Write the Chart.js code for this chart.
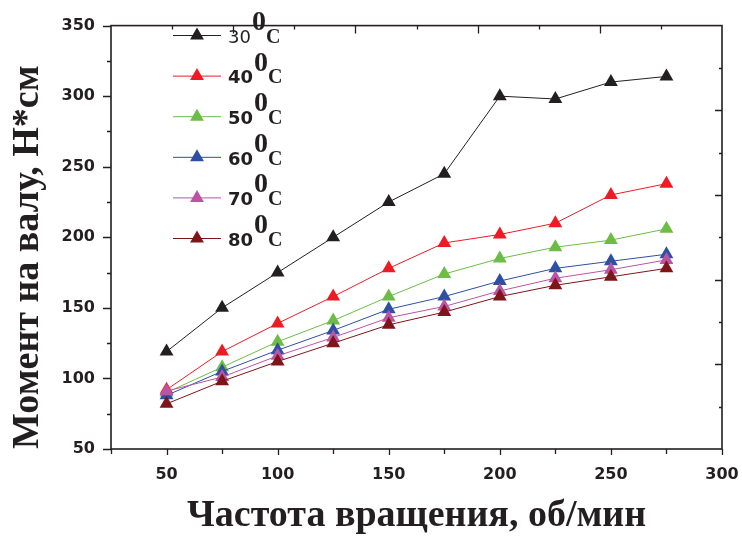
<!DOCTYPE html>
<html>
<head>
<meta charset="utf-8">
<script src="https://cdn.jsdelivr.net/npm/chart.js@4.4.1/dist/chart.umd.min.js"></script>
<style>
  html, body { margin: 0; background: #fff; }
</style>
</head>
<body>
<canvas id="c" width="742" height="538"></canvas>
<script>
// частота вращения, об/мин
const speeds = [50, 75, 100, 125, 150, 175, 200, 225, 250, 275];
// момент на валу, Н*см
const t30 = [119, 150, 175, 200, 225, 245, 300, 298, 310, 314];
const t40 = [92, 119, 139, 158, 178, 196, 202, 210, 230, 238];
const t50 = [90, 108, 126, 141, 158, 174, 185, 193, 198, 206];
const t60 = [88, 105, 120, 134, 149, 158, 169, 178, 183, 188];
const t70 = [91, 101, 116, 129, 143, 151, 162, 171, 177, 184];
const t80 = [82, 98, 112, 125, 138, 147, 158, 166, 172, 178];
const temps = ['30', '40', '50', '60', '70', '80'];
const xTicks = [50, 100, 150, 200, 250, 300];
const yTicks = [50, 100, 150, 200, 250, 300, 350];

const series = [t30, t40, t50, t60, t70, t80];
const colors = ['#231f20', '#ed1c24', '#6cbd45', '#2e4fa2', '#bb55a3', '#7f1518'];
const ink = '#231f20';

const datasets = series.map((vals, i) => ({
  label: temps[i] + '0C',
  data: speeds.map((s, k) => ({ x: s, y: vals[k] })),
  borderColor: colors[i],
  backgroundColor: colors[i],
  borderWidth: 1,
  pointStyle: 'triangle',
  pointRadius: 8,
  pointHoverRadius: 8,
  pointBorderWidth: 0,
  tension: 0,
  order: series.length - i   // later series on top, like Origin
}));

// рамка и засечки (внутрь сверху/справа, наружу слева/снизу)
const framePlugin = {
  id: 'frame',
  afterDraw(chart) {
    const { ctx, chartArea: a, scales: { x, y } } = chart;
    const w = a.right - a.left, h = a.bottom - a.top;
    ctx.save();
    ctx.strokeStyle = ink;
    ctx.lineWidth = 1.6;
    ctx.strokeRect(a.left, a.top, w, h);
    ctx.lineWidth = 1.3;
    ctx.beginPath();
    for (let v = 25; v <= 300; v += 25) {
      const px = Math.round(x.getPixelForValue(v)) + 0.5;
      ctx.moveTo(px, a.bottom); ctx.lineTo(px, a.bottom + (v % 50 === 0 ? 6 : 5));
    }
    for (let v = 50; v <= 350; v += 25) {
      const py = Math.round(y.getPixelForValue(v)) + 0.5;
      ctx.moveTo(a.left, py); ctx.lineTo(a.left - (v % 50 === 0 ? 8 : 4), py);
    }
    for (let i = 1; i < 10; i++) {
      const px = Math.round(a.left + i * w / 10) + 0.5;
      ctx.moveTo(px, a.top); ctx.lineTo(px, a.top + (i % 2 === 0 ? 8 : 4));
      const py = Math.round(a.top + i * h / 10) + 0.5;
      ctx.moveTo(a.right, py); ctx.lineTo(a.right - (i % 2 === 0 ? 7 : 3), py);
    }
    ctx.stroke();
    ctx.restore();
  }
};

// легенда с надстрочным «0»
const legendPlugin = {
  id: 'tempLegend',
  afterDatasetsDraw(chart) {
    const ctx = chart.ctx;
    chart.data.datasets.forEach((ds, i) => {
      const cy = 35.5 + i * 40.6;
      ctx.save();
      ctx.strokeStyle = ds.borderColor;
      ctx.lineWidth = 1;
      ctx.beginPath(); ctx.moveTo(173, cy); ctx.lineTo(221, cy); ctx.stroke();
      ctx.fillStyle = ds.backgroundColor;
      Chart.helpers.drawPoint(ctx, { pointStyle: 'triangle', radius: 8, rotation: 0, borderWidth: 0 }, 197, cy);
      ctx.fillStyle = ink;
      ctx.textAlign = 'left';
      ctx.textBaseline = 'alphabetic';
      let tx = 228;
      ctx.font = (i === 0 ? '' : 'bold ') + '18px "DejaVu Sans"';
      ctx.fillText(temps[i], tx, cy + 7.3);
      tx += ctx.measureText(temps[i]).width + 1;
      ctx.font = 'bold 28px "Liberation Serif"';
      ctx.fillText('0', tx, cy - 5.5);
      tx += ctx.measureText('0').width;
      ctx.font = 'bold 20px "Liberation Serif"';
      ctx.fillText('C', tx, cy + 7.3);
      ctx.restore();
    });
  }
};

const tickFont = { family: 'DejaVu Sans', weight: 'bold', size: 16 };
const titleFont = { family: 'Liberation Serif', weight: 'bold', size: 38, lineHeight: 1 };

new Chart(document.getElementById('c'), {
  type: 'line',
  data: { datasets },
  options: {
    responsive: false,
    animation: false,
    devicePixelRatio: 1,
    layout: { padding: { top: 24, right: 20, left: 0, bottom: 0 } },
    plugins: { legend: { display: false }, tooltip: { enabled: false } },
    scales: {
      x: {
        type: 'linear', min: 25, max: 300,
        grid: { display: false, drawTicks: false },
        border: { display: false },
        afterBuildTicks: s => { s.ticks = xTicks.map(v => ({ value: v })); },
        afterFit: s => { s.height = 89; s.paddingLeft = 0; s.paddingRight = 0; },
        ticks: { font: tickFont, color: ink, padding: 16, maxRotation: 0, autoSkip: false },
        title: { display: true, text: 'Частота вращения, об/мин', font: titleFont, color: ink, padding: { top: 0, bottom: 3 } }
      },
      y: {
        type: 'linear', min: 50, max: 350,
        grid: { display: false, drawTicks: false },
        border: { display: false },
        afterBuildTicks: s => { s.ticks = yTicks.map(v => ({ value: v })); },
        afterFit: s => { s.width = 111; },
        ticks: { font: tickFont, color: ink, padding: 16, autoSkip: false },
        title: { display: true, text: 'Момент на валу, Н*см', align: 'start', font: titleFont, color: ink, padding: { top: 9, bottom: 0 } }
      }
    }
  },
  plugins: [framePlugin, legendPlugin]
});
</script>
</body>
</html>
